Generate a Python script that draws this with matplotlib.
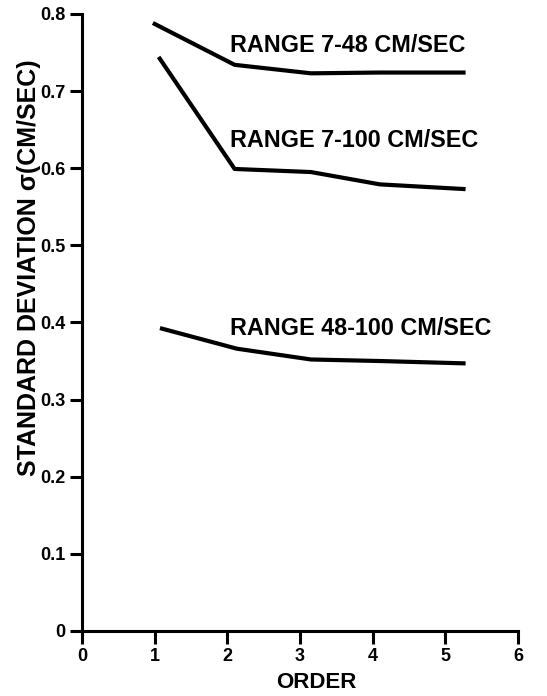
import matplotlib
matplotlib.use("Agg")
import matplotlib.pyplot as plt

plt.rcParams['font.family'] = ['Liberation Sans', 'DejaVu Sans']
plt.rcParams['font.weight'] = 'bold'

order = [1.0, 2.1, 3.15, 4.1, 5.25]
range_7_48 = [0.787, 0.734, 0.723, 0.724, 0.724]
range_7_100 = [0.742, 0.599, 0.595, 0.579, 0.573]
range_48_100 = [0.392, 0.366, 0.352, 0.350, 0.347]
order_7_100 = [1.07, 2.1, 3.15, 4.1, 5.25]
order_48_100 = [1.1, 2.13, 3.15, 4.1, 5.25]

labels = ["RANGE 7-48 CM/SEC", "RANGE 7-100 CM/SEC", "RANGE 48-100 CM/SEC"]
label_pos = [(2.03, 0.750), (2.03, 0.628), (2.03, 0.384)]

fig = plt.figure(figsize=(5.47, 6.96), dpi=100)
ax = fig.add_axes([0.150, 0.0934, 0.797, 0.8866])

ax.plot(order, range_7_48, color='black', linewidth=3)
ax.plot(order_7_100, range_7_100, color='black', linewidth=3)
ax.plot(order_48_100, range_48_100, color='black', linewidth=3)

for txt, (x, y) in zip(labels, label_pos):
    ax.text(x, y, txt, fontsize=16.8, fontweight='bold', ha='left', va='baseline')

ax.set_xlim(0, 6)
ax.set_ylim(0, 0.8)
ax.set_xticks(range(0, 7))
ax.set_yticks([0, 0.1, 0.2, 0.3, 0.4, 0.5, 0.6, 0.7, 0.8])
ax.set_yticklabels(["0", "0.1", "0.2", "0.3", "0.4", "0.5", "0.6", "0.7", "0.8"])

ax.spines['top'].set_visible(False)
ax.spines['right'].set_visible(False)
ax.spines['left'].set_linewidth(2.2)
ax.spines['bottom'].set_linewidth(2.2)
ax.tick_params(axis='both', direction='out', length=9, width=2.2, labelsize=13, pad=3)
for lab in ax.get_xticklabels() + ax.get_yticklabels():
    lab.set_fontweight('bold')

ax.set_xlabel("ORDER", fontsize=16, fontweight='bold')
ax.xaxis.set_label_coords(0.537, -0.066)
ax.set_ylabel("STANDARD DEVIATION \u03c3(CM/SEC)", fontsize=18, fontweight='bold')
ax.yaxis.set_label_coords(-0.095, 0.589)

fig.savefig("out.png", dpi=100)
